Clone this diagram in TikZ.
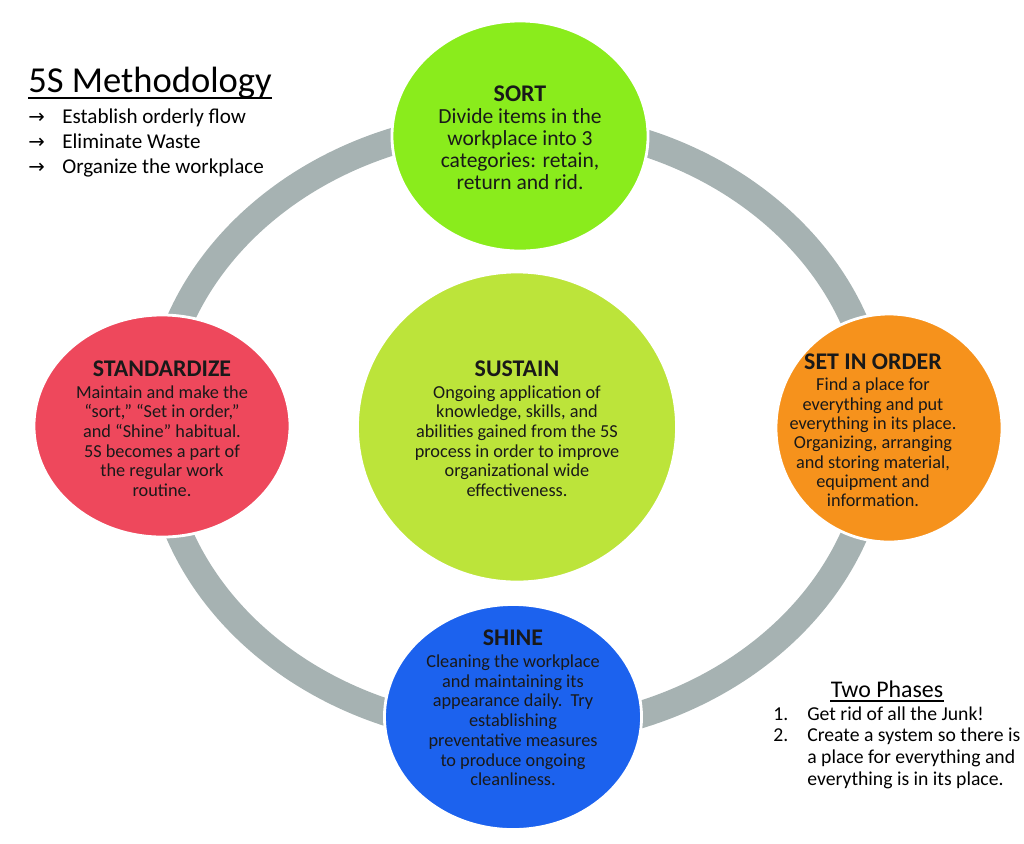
\documentclass[tikz,border=0pt]{standalone}
\usepackage{fontspec}
\setmainfont{Carlito}
\newfontfamily\arrowfont{DejaVu Sans}
\usepackage{tikz}
\usetikzlibrary{shapes.geometric,positioning}

\definecolor{ringgray}{RGB}{166,178,178}
\definecolor{sortgreen}{RGB}{138,236,28}
\definecolor{sustaingreen}{RGB}{188,228,58}
\definecolor{setorange}{RGB}{246,146,28}
\definecolor{stdred}{RGB}{238,72,92}
\definecolor{shineblue}{RGB}{28,98,238}
\definecolor{txt}{RGB}{25,25,25}

\newcommand{\hd}[1]{{\fontsize{17}{20}\selectfont\bfseries #1}}
\newcommand{\arr}{{\arrowfont\fontsize{14}{14}\selectfont →}}

\begin{document}
\begin{tikzpicture}[x=0.025cm,y=-0.025cm,
  blob/.style={ellipse,draw=white,line width=2pt,inner sep=0pt},
  blobtext/.style={align=center,text=txt,inner sep=0pt,font=\fontsize{13}{14}\selectfont}]
\useasboundingbox (0,0) rectangle (1024,843);

% gray ring behind the circles
\draw[ringgray,line width=0.675cm] (517,428) ellipse [x radius=9cm,y radius=7.625cm];

% circles (top, right, left, bottom, middle)
\node[blob,fill=sortgreen,minimum width=6.4cm,minimum height=5.75cm] (sort) at (520,136) {};
\node[blob,fill=setorange,minimum width=5.65cm,minimum height=5.7cm] (setorder) at (889,428) {};
\node[blob,fill=stdred,minimum width=6.4cm,minimum height=5.55cm] (standardize) at (162,426) {};
\node[blob,fill=shineblue,minimum width=6.425cm,minimum height=5.625cm] (shine) at (513,717) {};
\node[blob,fill=sustaingreen,minimum width=7.975cm,minimum height=7.75cm] (sustain) at (517,427) {};

% circle texts
\node[blobtext,font=\fontsize{15.3}{15.8}\selectfont] (sorttxt) at (520,138)
  {\hd{SORT}\\[-0.5pt] Divide items in the\\ workplace into 3\\ categories: retain,\\ return and rid.};
\node[blobtext,font=\fontsize{13}{13.7}\selectfont] (settxt) at (873,430)
  {\hd{SET IN ORDER}\\[1.9pt] Find a place for\\ everything and put\\ everything in its place.\\ Organizing, arranging\\ and storing material,\\ equipment and\\ information.};
\node[blobtext] (stdtxt) at (162,429)
  {\hd{STANDARDIZE}\\[1.2pt] Maintain and make the\\ “sort,” “Set in order,”\\ and “Shine” habitual.\\ 5S becomes a part of\\ the regular work\\ routine.};
\node[blobtext] (sustxt) at (517,429)
  {\hd{SUSTAIN}\\[1.2pt] Ongoing application of\\ knowledge, skills, and\\ abilities gained from the 5S\\ process in order to improve\\ organizational wide\\ effectiveness.};
\node[blobtext] (shinetxt) at (513,708)
  {\hd{SHINE}\\[1.5pt] Cleaning the workplace\\ and maintaining its\\ appearance daily.\ \ Try\\ establishing\\ preventative measures\\ to produce ongoing\\ cleanliness.};

% 5S Methodology (top left)
\node[anchor=base west,inner sep=0pt,font=\fontsize{26}{30}\selectfont] (mtitle) at (28,92) {5S Methodology};
\draw[line width=1.4pt] ([yshift=-4.3pt]mtitle.base west) -- ([yshift=-4.3pt]mtitle.base east);
\node[anchor=base west,inner sep=0pt,font=\fontsize{15}{17.8}\selectfont] (mlist) at (28,123)
  {\begin{tabular}[t]{@{}p{24.2pt}@{}l@{}}
   \arr & Establish orderly flow\\
   \arr & Eliminate Waste\\
   \arr & Organize the workplace
   \end{tabular}};

% Two Phases (bottom right)
\node[anchor=base,inner sep=0pt,font=\fontsize{17}{20}\selectfont] (ptitle) at (887,697) {Two Phases};
\draw[line width=1.2pt] ([yshift=-2.6pt]ptitle.base west) -- ([yshift=-2.6pt]ptitle.base east);
\node[anchor=base west,inner sep=0pt,font=\fontsize{14}{15.6}\selectfont] (plist) at (773,720)
  {\begin{tabular}[t]{@{}p{24.2pt}@{}l@{}}
   1. & Get rid of all the Junk!\\
   2. & Create a system so there is\\
      & a place for everything and\\
      & everything is in its place.
   \end{tabular}};

\end{tikzpicture}
\end{document}
